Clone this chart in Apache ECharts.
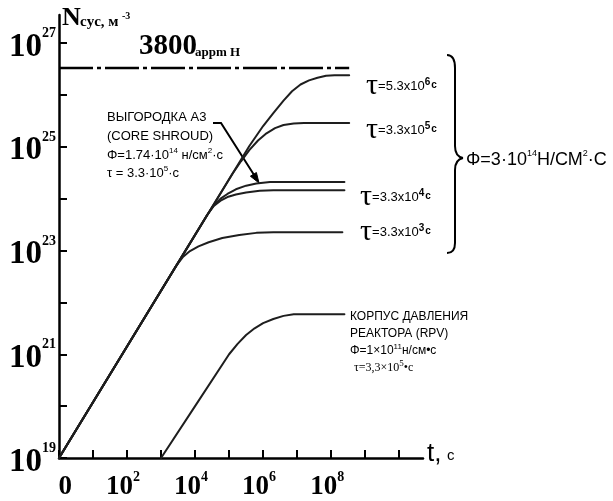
<!DOCTYPE html>
<html><head><meta charset="utf-8">
<script src="https://cdn.jsdelivr.net/npm/echarts@6/dist/echarts.min.js"></script>
<style>html,body{margin:0;padding:0;background:#fff}#c{width:613px;height:501px}</style>
</head><body><div id="c"></div>
<script>
// All values are log10: x = log10(t, c), y = log10(N, м^-3)
const xTickVals = [0,1,2,3,4,5,6,7,8,9,10];
const xLabelVals = [0,2,4,6,8];
const yTickVals = [19,20,21,22,23,24,25,26,27];
const yLabelVals = [19,21,23,25,27];

const tau53e6X = [0, 5.6, 6.0, 6.3, 6.6, 6.85, 7.1, 7.35, 7.6, 7.85, 8.1, 8.53];
const tau53e6Y = [19, 25.02, 25.40, 25.65, 25.89, 26.07, 26.2, 26.28, 26.33, 26.37, 26.38, 26.38];
const tau33e5X = [0, 5.1, 5.35, 5.6, 5.85, 6.1, 6.35, 6.6, 6.9, 7.2, 8.53];
const tau33e5Y = [19, 24.48, 24.72, 24.94, 25.12, 25.26, 25.36, 25.42, 25.45, 25.46, 25.46];
const shroudX = [0, 4.35, 4.55, 4.75, 4.95, 5.2, 5.5, 5.8, 6.2, 8.39];
const shroudY = [19, 23.68, 23.87, 24.0, 24.09, 24.18, 24.25, 24.29, 24.32, 24.32];
const tau33e4X = [0, 4.35, 4.55, 4.75, 4.95, 5.2, 5.5, 5.9, 6.3, 8.39];
const tau33e4Y = [19, 23.68, 23.86, 23.96, 24.03, 24.08, 24.12, 24.15, 24.16, 24.16];
const tau33e3X = [0, 3.45, 3.65, 3.85, 4.1, 4.4, 4.8, 5.3, 5.8, 6.3, 8.33];
const tau33e3Y = [19, 22.71, 22.88, 22.99, 23.08, 23.16, 23.24, 23.3, 23.34, 23.35, 23.35];
const rpvX = [3.0, 4.0, 5.0, 5.25, 5.5, 5.75, 6.0, 6.3, 6.6, 6.9, 8.39];
const rpvY = [19.0, 20.0, 21.0, 21.2, 21.37, 21.5, 21.6, 21.68, 21.74, 21.77, 21.77];
const appmX = [0, 8.53];
const appmY = [26.52, 26.52];

const pairs = (xs, ys) => xs.map((x, i) => [x, ys[i]]);
const isInt = v => Math.abs(v - Math.round(v)) < 1e-6;

const chart = echarts.init(document.getElementById('c'), null, {renderer: 'canvas'});
const lineSeries = (name, xs, ys) => ({
  name, type: 'line', data: pairs(xs, ys), symbol: 'none', silent: true,
  lineStyle: {color: '#1e1e1e', width: 2, join: 'round', cap: 'round'}
});
const serif = 'Liberation Serif';
const sans = 'Liberation Sans';

const option = {
  animation: false,
  backgroundColor: '#fff',
  grid: {left: 59, right: 190, top: 15, bottom: 43, outerBoundsMode: 'none'},
  xAxis: {
    type: 'value', min: 0, max: 10.7, interval: 1,
    axisLine: {show: true, onZero: false, lineStyle: {color: '#000', width: 2.5}},
    axisTick: {show: true, inside: true, length: 8, customValues: xTickVals, lineStyle: {color: '#000', width: 2}},
    splitLine: {show: false},
    axisLabel: {
      customValues: xLabelVals, margin: 12, color: '#000',
      formatter: v => {
        if (!isInt(v) || xLabelVals.indexOf(Math.round(v)) < 0) return '';
        const e = Math.round(v);
        return e === 0 ? '{z|0}{s| }' : '{b|10}{s|' + e + '}';
      },
      rich: {
        b: {fontFamily: serif, fontWeight: 'bold', fontSize: 27, lineHeight: 27, color: '#000', padding: [8, 0, 0, 0]},
        z: {fontFamily: serif, fontWeight: 'bold', fontSize: 27, lineHeight: 27, color: '#000', padding: [8, 0, 0, 24]},
        s: {fontFamily: serif, fontWeight: 'bold', fontSize: 14, lineHeight: 14, verticalAlign: 'top', color: '#000', padding: [0, 8, 0, 0]}
      }
    }
  },
  yAxis: {
    type: 'value', min: 19, max: 27.54, interval: 1,
    axisLine: {show: true, onZero: false, lineStyle: {color: '#000', width: 2.5}},
    axisTick: {show: true, inside: true, length: 8, customValues: yTickVals, lineStyle: {color: '#000', width: 2}},
    splitLine: {show: false},
    axisLabel: {
      customValues: yLabelVals, margin: 3, color: '#000',
      formatter: v => {
        if (!isInt(v) || yLabelVals.indexOf(Math.round(v)) < 0) return '';
        return '{b|10}{s|' + Math.round(v) + '}';
      },
      rich: {
        b: {fontFamily: serif, fontWeight: 'bold', fontSize: 33, lineHeight: 33, color: '#000', padding: [8, 0, 0, 0]},
        s: {fontFamily: serif, fontWeight: 'bold', fontSize: 14, lineHeight: 14, verticalAlign: 'top', color: '#000'}
      }
    }
  },
  series: [
    lineSeries('τ=5.3x10^6', tau53e6X, tau53e6Y),
    lineSeries('τ=3.3x10^5', tau33e5X, tau33e5Y),
    lineSeries('core shroud', shroudX, shroudY),
    lineSeries('τ=3.3x10^4', tau33e4X, tau33e4Y),
    lineSeries('τ=3.3x10^3', tau33e3X, tau33e3Y),
    lineSeries('RPV', rpvX, rpvY),
    {name: '3800 appm H', type: 'line', data: pairs(appmX, appmY), symbol: 'none', silent: true,
     lineStyle: {color: '#000', width: 2.5, type: [34, 4, 4, 4]}}
  ],
  graphic: []
};

const T = (x, y, text, font, rich, align) => ({
  type: 'text', x, y, silent: true,
  style: {text, font, fill: '#000', textAlign: align || 'left', textVerticalAlign: 'middle', rich}
});
const sansR = (s) => ({fontFamily: sans, fontSize: s, color: '#000'});
const supR = (s, pb) => ({fontFamily: sans, fontSize: s, color: '#000', padding: [0, 0, pb, 0]});
const bez = (x1, y1, cx1, cy1, cx2, cy2, x2, y2) => ({
  type: 'bezierCurve', silent: true,
  shape: {x1, y1, cpx1: cx1, cpy1: cy1, cpx2: cx2, cpy2: cy2, x2, y2},
  style: {fill: null, stroke: '#000', lineWidth: 2}
});
const seg = (x1, y1, x2, y2) => ({
  type: 'line', silent: true, shape: {x1, y1, x2, y2}, style: {stroke: '#000', lineWidth: 2}
});

const tauRich = {
  t: {fontFamily: serif, fontSize: 30, lineHeight: 30, color: '#000'},
  a: {fontFamily: sans, fontSize: 13, color: '#000'},
  s: {fontFamily: sans, fontWeight: 'bold', fontSize: 10, color: '#000', padding: [0, 1, 7, 0]},
  c: {fontFamily: sans, fontWeight: 'bold', fontSize: 10, color: '#000', padding: [0, 0, 2, 0]}
};

option.graphic = [
  // y axis name
  T(62, 18, 'N', 'bold 26px "Liberation Serif"'),
  T(80, 22, 'cyc, м', 'bold 15px "Liberation Serif"'),
  T(122, 16, '-3', 'bold 10px "Liberation Serif"'),
  // x axis name
  T(427, 454, 't,', '26px "Liberation Sans"'),
  T(447, 456, 'c', '15px "Liberation Sans"'),
  // 3800 appm H
  T(139, 47, '3800', 'bold 29px "Liberation Serif"'),
  T(195, 53, 'appm H', 'bold 13px "Liberation Serif"'),
  // tau labels
  T(366, 86, '{t|τ}{a|=5.3x10}{s|6}{c|c}', '13px "Liberation Sans"', tauRich),
  T(366, 130, '{t|τ}{a|=3.3x10}{s|5}{c|c}', '13px "Liberation Sans"', tauRich),
  T(360, 197, '{t|τ}{a|=3.3x10}{s|4}{c|c}', '13px "Liberation Sans"', tauRich),
  T(360, 232, '{t|τ}{a|=3.3x10}{s|3}{c|c}', '13px "Liberation Sans"', tauRich),
  // brace
  bez(447, 55, 453, 55, 455, 60, 455, 68),
  seg(455, 68, 455, 146),
  bez(455, 146, 455, 153, 458, 157, 463, 158),
  bez(463, 158, 458, 159, 455, 163, 455, 170),
  seg(455, 170, 455, 243),
  bez(455, 243, 455, 250, 452, 253, 447, 253),
  T(466, 160, '{a|Φ=3·10}{s|14}{a|Н/СМ}{s|2}{a|·С}', '18px "Liberation Sans"',
    {a: sansR(18), s: supR(9, 12)}),
  // core shroud annotation
  T(107, 117, 'ВЫГОРОДКА А3', '13px "Liberation Sans"'),
  T(107, 136, '(CORE SHROUD)', '13px "Liberation Sans"'),
  T(107, 155, '{a|Φ=1.74·10}{s|14}{a| н/см}{s|2}{a|·с}', '13px "Liberation Sans"',
    {a: sansR(13), s: supR(8, 9)}),
  T(107, 173, '{a|τ = 3.3·10}{s|5}{a|·с}', '13px "Liberation Sans"',
    {a: sansR(13), s: supR(8, 9)}),
  {type: 'polyline', silent: true, shape: {points: [[213, 123], [221, 123], [256, 178]]},
   style: {fill: null, stroke: '#000', lineWidth: 2}},
  {type: 'polygon', silent: true, shape: {points: [[259, 183], [256.4, 172.5], [250.4, 176.2]]},
   style: {fill: '#000', stroke: '#000', lineWidth: 1}},
  // RPV annotation
  T(350, 317, 'КОРПУС ДАВЛЕНИЯ', '12px "Liberation Sans"'),
  T(350, 334, 'РЕАКТОРА (RPV)', '12px "Liberation Sans"'),
  T(350, 351, '{a|Φ=1×10}{s|11}{a|н/см•с}', '12px "Liberation Sans"',
    {a: sansR(12), s: supR(8, 9)}),
  T(354, 368, '{a|τ=3,3×10}{s|5}{a|•с}', '12px "Liberation Serif"',
    {a: {fontFamily: serif, fontSize: 12, color: '#000'}, s: {fontFamily: serif, fontSize: 9, color: '#000', padding: [0, 0, 9, 0]}})
];

chart.setOption(option);
</script>
</body></html>
